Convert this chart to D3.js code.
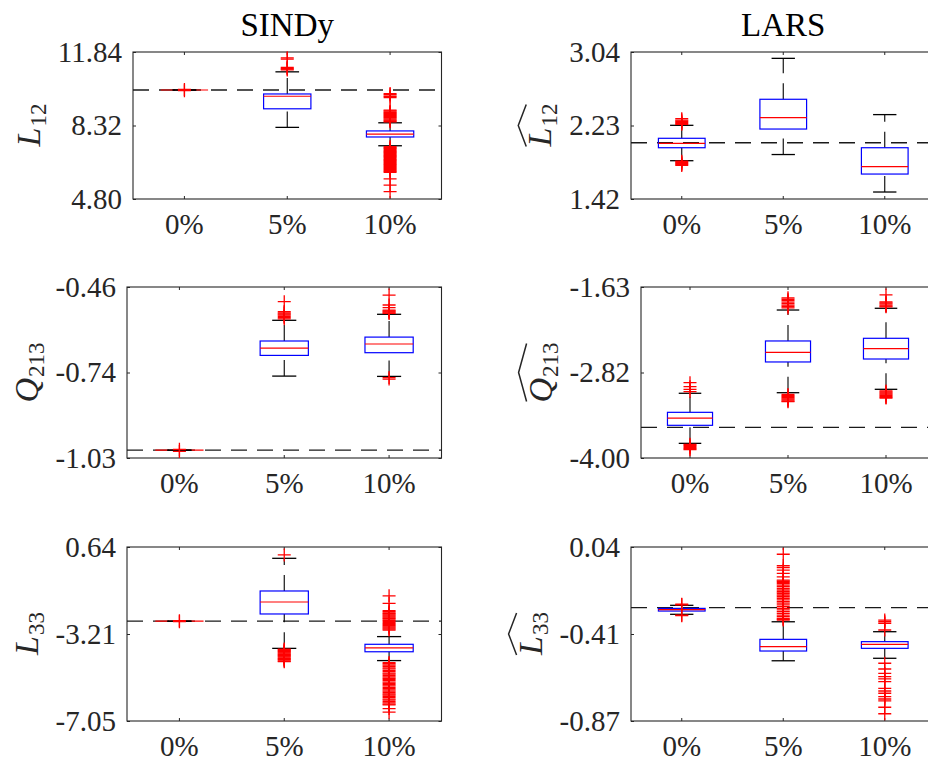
<!DOCTYPE html>
<html>
<head>
<meta charset="utf-8">
<script src="https://cdn.jsdelivr.net/npm/d3@7"></script>
<style>
  html, body { margin: 0; padding: 0; background: #fff; overflow: hidden; }
  svg { display: block; }
</style>
</head>
<body>
<svg id="fig" width="928" height="762"></svg>
<script>
// ---- data -------------------------------------------------------------
const categories = ["0%", "5%", "10%"];
const methods = ["SINDy", "LARS"];

// box statistics per noise level: [lower whisker, q1, median, q3, upper whisker]

// SINDy, L12
const sindyL12Ticks = [4.80, 8.32, 11.84];
const sindyL12TickLabels = ["4.80", "8.32", "11.84"];
const sindyL12True = 10.02;
const sindyL12Stats = [
  [10.02, 10.02, 10.02, 10.02, 10.02],
  [8.23, 9.12, 9.72, 9.83, 10.89],
  [7.35, 7.77, 7.91, 8.06, 8.45]
];
const sindyL12Outliers = [
  [10.05, 9.99],
  [11.56, 11.50, 11.10, 11.06, 11.02, 10.98],
  [9.85, 9.80, 9.72, 9.66,
   9.06, 9.02, 8.97, 8.93, 8.89, 8.84, 8.80, 8.76, 8.71, 8.67, 8.63, 8.58, 8.54, 8.50,
   7.31, 7.26, 7.22, 7.17, 7.12, 7.07, 7.03, 6.98, 6.93, 6.88, 6.84, 6.79, 6.74, 6.69,
   6.65, 6.60, 6.55, 6.50, 6.46, 6.41, 6.36, 6.31, 6.27, 6.22, 6.17, 6.12, 6.08,
   5.76, 5.46, 5.15]
];

// LARS, L12
const larsL12Ticks = [1.42, 2.23, 3.04];
const larsL12TickLabels = ["1.42", "2.23", "3.04"];
const larsL12True = 2.04;
const larsL12Stats = [
  [1.842, 1.985, 2.034, 2.089, 2.232],
  [1.91, 2.191, 2.316, 2.519, 2.97],
  [1.497, 1.695, 1.776, 1.985, 2.35]
];
const larsL12Outliers = [
  [2.305, 2.29, 2.277, 2.264, 2.252, 2.243, 1.836, 1.824, 1.812, 1.801, 1.79],
  [],
  []
];

// SINDy, Q213
const sindyQ213Ticks = [-1.03, -0.745, -0.46];
const sindyQ213TickLabels = ["-1.03", "-0.74", "-0.46"];
const sindyQ213True = -1.004;
const sindyQ213Stats = [
  [-1.004, -1.004, -1.004, -1.004, -1.004],
  [-0.757, -0.688, -0.664, -0.640, -0.571],
  [-0.758, -0.679, -0.650, -0.627, -0.551]
];
const sindyQ213Outliers = [
  [-1.008, -1.001],
  [-0.509, -0.542, -0.546, -0.550, -0.554, -0.558, -0.562, -0.566],
  [-0.487, -0.520, -0.529, -0.537, -0.540, -0.543, -0.546, -0.548, -0.762, -0.767]
];

// LARS, Q213
const larsQ213Ticks = [-4.00, -2.815, -1.63];
const larsQ213TickLabels = ["-4.00", "-2.82", "-1.63"];
const larsQ213True = -3.575;
const larsQ213Stats = [
  [-3.797, -3.547, -3.446, -3.367, -3.103],
  [-3.095, -2.669, -2.535, -2.378, -1.949],
  [-3.048, -2.628, -2.485, -2.341, -1.925]
];
const larsQ213Outliers = [
  [-2.956, -3.012, -3.048, -3.08, -3.81, -3.825, -3.84, -3.855, -3.87, -3.885],
  [-1.78, -1.80, -1.82, -1.84, -1.86, -1.88, -1.90, -1.92,
   -3.12, -3.135, -3.15, -3.165, -3.18, -3.195, -3.21, -3.22],
  [-1.74, -1.835, -1.85, -1.865, -1.88, -1.895, -1.905,
   -3.07, -3.085, -3.10, -3.115, -3.13, -3.145, -3.16, -3.17]
];

// SINDy, L33
const sindyL33Ticks = [-7.05, -3.205, 0.64];
const sindyL33TickLabels = ["-7.05", "-3.21", "0.64"];
const sindyL33True = -2.64;
const sindyL33Stats = [
  [-2.64, -2.64, -2.64, -2.64, -2.64],
  [-3.84, -2.32, -1.79, -1.304, 0.14],
  [-4.38, -3.99, -3.82, -3.66, -3.32]
];
const sindyL33Outliers = [
  [-2.66, -2.62],
  [0.29, -3.87, -3.90, -3.94, -3.97, -4.01, -4.04, -4.08, -4.11, -4.15, -4.18, -4.22,
   -4.26, -4.29, -4.33, -4.36, -4.40, -4.43],
  [-1.52, -1.85,
   -2.17, -2.22, -2.27, -2.31, -2.36, -2.41, -2.46, -2.51, -2.55, -2.60, -2.65, -2.70,
   -2.75, -2.79, -2.84, -2.89, -2.94, -2.99, -3.03,
   -4.47, -4.52, -4.58, -4.64, -4.70, -4.75, -4.81, -4.87, -4.93, -4.98, -5.04, -5.10,
   -5.16, -5.21, -5.27, -5.33, -5.39, -5.44, -5.50, -5.56, -5.62, -5.67, -5.73, -5.79,
   -5.85, -5.90, -5.96, -6.02, -6.08, -6.13, -6.19, -6.25, -6.30, -6.34,
   -6.50, -6.66]
];

// LARS, L33
const larsL33Ticks = [-0.87, -0.415, 0.04];
const larsL33TickLabels = ["-0.87", "-0.41", "0.04"];
const larsL33True = -0.277;
const larsL33Stats = [
  [-0.312, -0.295, -0.288, -0.281, -0.265],
  [-0.555, -0.504, -0.481, -0.443, -0.351],
  [-0.542, -0.490, -0.469, -0.455, -0.403]
];
const larsL33Outliers = [
  [-0.259, -0.262, -0.316, -0.319],
  [0.002, -0.058, -0.068, -0.081, -0.098, -0.116,
   -0.133, -0.139, -0.145, -0.152, -0.159, -0.167, -0.176, -0.185, -0.194, -0.202,
   -0.211, -0.219, -0.228, -0.237, -0.246, -0.254, -0.263, -0.272, -0.281, -0.289,
   -0.298, -0.307, -0.316, -0.324, -0.333, -0.338, -0.342],
  [-0.342, -0.351, -0.359, -0.394,
   -0.568, -0.598, -0.621, -0.638, -0.650, -0.664, -0.699, -0.713, -0.725, -0.743,
   -0.755, -0.765, -0.798, -0.832]
];

// ---- panels -------------------------------------------------------------
const panels = [
  { ticks: sindyL12Ticks, labels: sindyL12TickLabels, truth: sindyL12True, stats: sindyL12Stats, out: sindyL12Outliers, sym: "L", sub: "12", hat: false },
  { ticks: larsL12Ticks, labels: larsL12TickLabels, truth: larsL12True, stats: larsL12Stats, out: larsL12Outliers, sym: "L", sub: "12", hat: true },
  { ticks: sindyQ213Ticks, labels: sindyQ213TickLabels, truth: sindyQ213True, stats: sindyQ213Stats, out: sindyQ213Outliers, sym: "Q", sub: "213", hat: false },
  { ticks: larsQ213Ticks, labels: larsQ213TickLabels, truth: larsQ213True, stats: larsQ213Stats, out: larsQ213Outliers, sym: "Q", sub: "213", hat: true },
  { ticks: sindyL33Ticks, labels: sindyL33TickLabels, truth: sindyL33True, stats: sindyL33Stats, out: sindyL33Outliers, sym: "L", sub: "33", hat: false },
  { ticks: larsL33Ticks, labels: larsL33TickLabels, truth: larsL33True, stats: larsL33Stats, out: larsL33Outliers, sym: "L", sub: "33", hat: true }
];

// axes rectangles (pixels)
const frames = [
  { left: 133, right: 441.5, top: 52, bottom: 199 },
  { left: 631, right: 935.5, top: 52, bottom: 199 },
  { left: 127, right: 441.5, top: 287, bottom: 458 },
  { left: 641, right: 935, top: 287, bottom: 458 },
  { left: 127, right: 441.5, top: 547, bottom: 721 },
  { left: 631, right: 935.5, top: 547, bottom: 721 }
];

// ---- drawing --------------------------------------------------------------
const textFont = '"Liberation Serif"';
const axisColor = "#262626";
const svg = d3.select("#fig");

// column titles
methods.forEach((m, j) => {
  const f = frames[j];
  svg.append("text")
    .attr("x", (f.left + f.right) / 2)
    .attr("y", 36)
    .attr("text-anchor", "middle")
    .style("font-family", textFont)
    .style("font-size", "33px")
    .attr("fill", "#000")
    .text(m);
});

function styleAxis(sel) {
  sel.attr("font-family", null).attr("font-size", null).attr("color", axisColor);
  sel.selectAll("text").style("font-family", textFont).style("font-size", "29px");
  sel.select(".domain").remove();
  sel.selectAll(".tick line").attr("stroke-width", 1);
}

panels.forEach((p, i) => {
  const f = frames[i];
  const g = svg.append("g");

  const x = d3.scaleBand().domain(categories).range([f.left, f.right]).paddingInner(0).paddingOuter(0);
  const y = d3.scaleLinear().domain([p.ticks[0], p.ticks[2]]).range([f.bottom, f.top]);
  const bw = x.bandwidth();
  const cx = c => x(c) + bw / 2;
  const boxW = bw * 0.46;
  const capW = boxW / 2;

  // axes with inward ticks on all four sides
  const yLeft = g.append("g").attr("transform", `translate(${f.left},0)`)
    .call(d3.axisLeft(y).tickValues(p.ticks).tickFormat((d, k) => p.labels[k])
      .tickSize(-3).tickPadding(11).tickSizeOuter(0))
    .call(styleAxis);
  g.append("g").attr("transform", `translate(${f.right},0)`)
    .call(d3.axisRight(y).tickValues(p.ticks).tickFormat("").tickSize(-3).tickSizeOuter(0))
    .call(styleAxis);
  g.append("g").attr("transform", `translate(0,${f.bottom})`)
    .call(d3.axisBottom(x).tickSize(-3).tickPadding(14).tickSizeOuter(0))
    .call(styleAxis);
  g.append("g").attr("transform", `translate(0,${f.top})`)
    .call(d3.axisTop(x).tickFormat("").tickSize(-3).tickSizeOuter(0))
    .call(styleAxis);

  g.append("rect")
    .attr("x", f.left).attr("y", f.top)
    .attr("width", f.right - f.left).attr("height", f.bottom - f.top)
    .attr("fill", "none").attr("stroke", axisColor).attr("stroke-width", 1.1);

  // reference (true) value
  g.append("line")
    .attr("x1", f.left).attr("x2", f.right)
    .attr("y1", y(p.truth)).attr("y2", y(p.truth))
    .attr("stroke", "#1a1a1a").attr("stroke-width", 1.3)
    .attr("stroke-dasharray", "16,10");

  p.stats.forEach((s, k) => {
    const c = cx(categories[k]);
    const [lo, q1, med, q3, hi] = s;
    const bg = g.append("g");
    // dashed whiskers, drawn upward
    bg.append("line").attr("x1", c).attr("x2", c).attr("y1", y(lo)).attr("y2", y(q1))
      .attr("stroke", "#000").attr("stroke-width", 1.1).attr("stroke-dasharray", "16,10");
    bg.append("line").attr("x1", c).attr("x2", c).attr("y1", y(q3)).attr("y2", y(hi))
      .attr("stroke", "#000").attr("stroke-width", 1.1).attr("stroke-dasharray", "16,10");
    // box
    bg.append("rect")
      .attr("x", c - boxW / 2).attr("width", boxW)
      .attr("y", y(q3)).attr("height", Math.max(0, y(q1) - y(q3)))
      .attr("fill", "none").attr("stroke", "#0000ff").attr("stroke-width", 1.2);
    // median
    bg.append("line").attr("x1", c - boxW / 2).attr("x2", c + boxW / 2)
      .attr("y1", y(med)).attr("y2", y(med))
      .attr("stroke", "#ff0000").attr("stroke-width", 1.2);
    // whisker caps
    [lo, hi].forEach(v => {
      bg.append("line").attr("x1", c - capW / 2).attr("x2", c + capW / 2)
        .attr("y1", y(v)).attr("y2", y(v))
        .attr("stroke", "#000").attr("stroke-width", 1.3);
    });
  });

  // outliers as '+' markers
  p.out.forEach((vals, k) => {
    const c = cx(categories[k]);
    g.append("g").selectAll("path").data(vals).join("path")
      .attr("d", v => `M${c - 6.5},${y(v)}h13M${c},${y(v) - 6.5}v13`)
      .attr("fill", "none").attr("stroke", "#ff0000").attr("stroke-width", 1.3);
  });

  // rotated y label, placed left of the tick labels
  const minLeft = d3.min(yLeft.selectAll("text").nodes(), n => n.getBoundingClientRect().left);
  const lab = svg.append("g");
  const txt = lab.append("text")
    .style("font-family", textFont).style("font-size", "34px").attr("fill", axisColor);
  txt.append("tspan").style("font-style", "italic").text(p.sym);
  txt.append("tspan").style("font-size", "23px").attr("dy", 6).attr("dx", 1).text(p.sub);
  const bb = txt.node().getBBox();
  if (p.hat) {
    const x0 = bb.x + 1, x1 = bb.x + bb.width - 1, xm = (x0 + x1) / 2;
    lab.append("path")
      .attr("d", `M${x0},-25L${xm},-33L${x1},-25`)
      .attr("fill", "none").attr("stroke", axisColor).attr("stroke-width", 1.5);
  }
  const tx = minLeft - 12 - 6;
  const ty = (f.top + f.bottom) / 2 + bb.x + bb.width / 2;
  lab.attr("transform", `translate(${tx},${ty}) rotate(-90)`);
});
</script>
</body>
</html>
